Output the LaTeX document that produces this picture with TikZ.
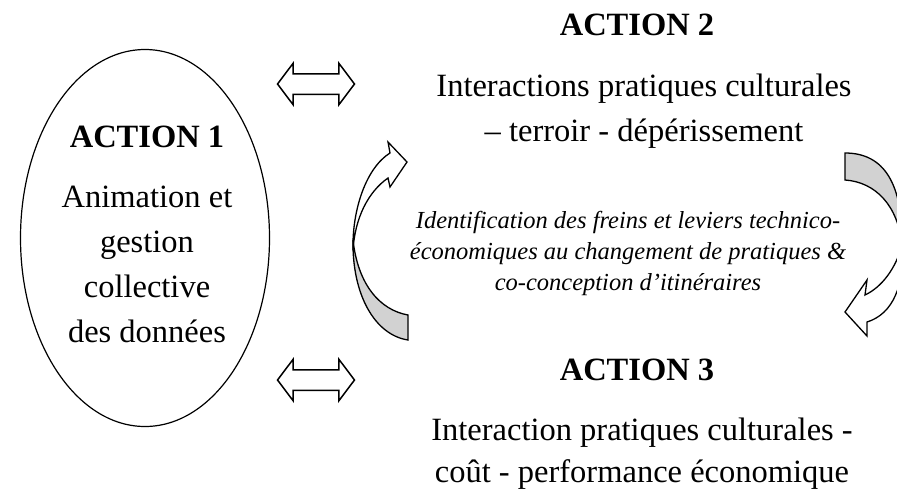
\documentclass[tikz,border=0pt]{standalone}
\usepackage{fontspec}
\setmainfont{Liberation Serif}
\usetikzlibrary{shapes,arrows,positioning}

\begin{document}
\begin{tikzpicture}[x=1pt, y=1pt, node distance=38pt,
        title/.style={font=\fontsize{32.5}{45}\selectfont\bfseries, inner sep=0pt, anchor=base},
        body/.style={font=\fontsize{32.5}{45}\selectfont, align=center, inner sep=0pt},
        note/.style={font=\fontsize{24.5}{31}\selectfont\itshape, align=center, inner sep=0pt},
        link/.style={draw, double arrow, line width=1.5pt, minimum height=77pt, minimum width=40pt,
            double arrow head extend=10.5pt, double arrow tip angle=106, inner xsep=0pt, inner ysep=9.5pt},
        turn/.style={draw, line width=1.3pt, line join=miter},
        back/.style={turn, fill=gray!35}
    ]
    \useasboundingbox (0,0) rectangle (897,-491);

    \node [draw, ellipse, line width=1.2pt, minimum width=249pt, minimum height=377pt] (act1) at (145,-238) {};
    \node [title] (act1t) at (147,-147) {ACTION 1};
    \node [body, below=38pt of act1t] (act1b) {Animation et\\gestion\\collective\\des données};

    \node [title] (act2t) at (637,-35) {ACTION 2};
    \node [body, below=38pt of act2t, xshift=7pt] (act2b) {Interactions pratiques culturales\\– terroir - dépérissement};
    \node [note, anchor=north] (ident) at (628,-211) {Identification des freins et leviers technico-\\économiques au changement de pratiques \&\\co-conception d’itinéraires};
    \node [title] (act3t) at (637,-380) {ACTION 3};
    \node [body, below=37pt of act3t, xshift=5pt, font=\fontsize{32.5}{42.5}\selectfont] (act3b) {Interaction pratiques culturales -\\coût - performance économique};

    \node [link] (link2) at (316,-84) {};
    \node [link] (link3) at (316,-380) {};

    \draw [back] (353,-240) .. controls (352,-295) and (375,-335) .. (408,-340) -- (408,-315)
        .. controls (380,-310) and (358,-285) .. (353,-240) -- cycle;
    \draw [turn, fill=white] (390,-153) .. controls (366,-168) and (352,-210) .. (353,-250)
        .. controls (355,-218) and (368,-192) .. (388,-178) -- (390,-187) -- (407,-162) -- (388,-142) -- cycle;

    \draw [back] (845,-153) .. controls (885,-153) and (903,-185) .. (902,-245)
        .. controls (898,-205) and (875,-182) .. (845,-180) -- cycle;
    \draw [turn, fill=white] (902,-245) .. controls (905,-285) and (893,-314) .. (867,-322)
        -- (867,-336) -- (845,-312) -- (867,-280) -- (865,-295)
        .. controls (882,-287) and (896,-268) .. (902,-245) -- cycle;
\end{tikzpicture}
\end{document}
